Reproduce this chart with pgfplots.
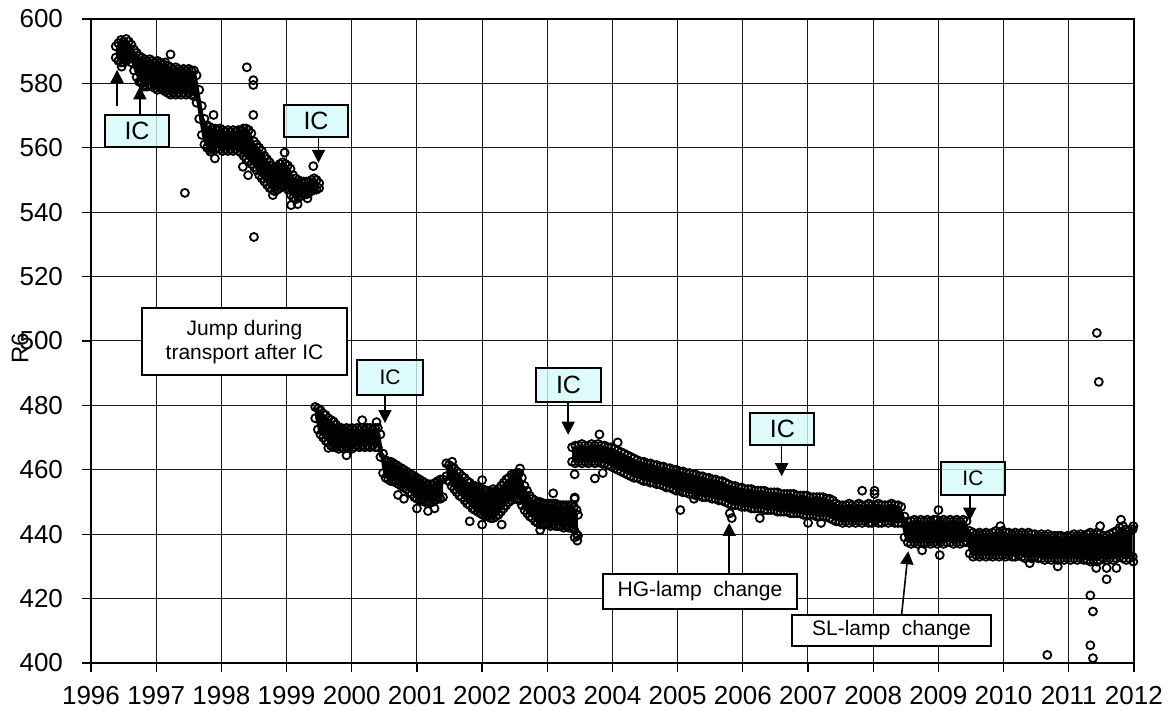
\documentclass[border=0pt]{standalone}
\usepackage{fontspec}
\setmainfont{Liberation Sans}
\usepackage{pgfplots}
\pgfplotsset{compat=1.18}
\usepackage{pgfplotstable}
\usepgfplotslibrary{fillbetween}
\usetikzlibrary{arrows.meta}
\definecolor{icfill}{RGB}{212,250,250}

\pgfplotstableread{
x t b
1996.38 591.5 588.0
1996.42 592.5 587.0
1996.46 593.5 586.5
1996.50 593.0 586.5
1996.54 593.8 587.0
1996.58 593.0 587.5
1996.62 592.0 586.5
1996.66 590.5 584.0
1996.70 589.5 582.0
1996.74 588.5 580.5
1996.78 588.0 580.0
1996.82 587.5 579.5
1996.86 587.0 579.0
1996.90 587.5 579.5
1996.94 587.0 579.0
1996.98 586.5 578.5
1997.02 587.0 578.0
1997.06 586.5 578.5
1997.10 586.0 578.0
1997.14 586.5 577.5
1997.18 585.5 577.0
1997.22 585.0 576.5
1997.26 584.5 577.0
1997.30 585.0 576.5
1997.34 584.5 577.0
1997.38 584.0 576.5
1997.42 584.5 577.0
1997.46 584.0 576.5
1997.50 584.5 577.0
1997.54 584.0 576.5
1997.58 584.0 576.0
1997.62 582.5 574.0
1997.66 578.0 569.0
1997.70 573.0 564.0
1997.74 569.0 561.0
1997.78 567.0 560.0
1997.82 566.5 559.5
1997.86 566.0 560.0
1997.90 566.0 559.5
1997.94 565.5 560.0
1997.98 566.0 559.5
1998.02 565.5 559.0
1998.06 565.0 559.5
1998.10 565.5 559.0
1998.14 565.0 559.5
1998.18 565.5 559.0
1998.22 565.0 559.5
1998.26 565.5 559.0
1998.30 565.5 558.5
1998.34 566.0 557.5
1998.38 566.0 556.5
1998.42 565.5 556.0
1998.46 564.5 555.0
1998.50 562.0 554.0
1998.54 561.0 553.0
1998.58 560.0 551.5
1998.62 559.0 550.5
1998.66 557.5 549.5
1998.70 556.5 548.5
1998.74 555.5 547.5
1998.78 554.5 547.0
1998.82 554.0 546.5
1998.86 554.0 547.0
1998.90 555.0 547.5
1998.94 555.5 548.0
1998.98 555.0 548.0
1999.02 554.5 547.0
1999.06 553.5 545.5
1999.10 551.5 544.5
1999.14 550.5 544.0
1999.18 550.0 544.5
1999.22 549.5 545.0
1999.26 549.5 545.5
1999.30 549.5 545.5
1999.34 549.5 546.0
1999.38 550.0 546.5
1999.42 550.5 547.0
1999.46 550.0 547.0
1999.50 549.0 547.5
}\segA

\pgfplotstableread{
x t b
1999.44 479.5 476.0
1999.48 479.0 472.5
1999.52 478.5 471.0
1999.56 477.5 470.0
1999.60 477.0 469.0
1999.64 476.0 468.5
1999.68 475.5 467.5
1999.72 475.0 467.0
1999.76 474.0 467.0
1999.80 473.0 466.5
1999.84 473.0 467.0
1999.88 472.5 466.5
1999.92 473.0 467.0
1999.96 472.5 467.0
2000.00 473.0 466.5
2000.04 472.5 467.0
2000.08 473.0 467.5
2000.12 472.5 467.0
2000.16 473.0 467.5
2000.20 472.5 467.0
2000.24 473.0 467.5
2000.28 473.0 467.0
2000.32 472.5 467.5
2000.36 473.0 467.0
2000.40 473.0 467.0
2000.44 471.0 464.0
2000.48 465.0 459.0
2000.52 463.0 457.5
2000.56 462.5 457.0
2000.60 462.5 456.5
2000.64 462.0 456.5
2000.68 461.5 456.0
2000.72 461.0 455.5
2000.76 460.5 455.0
2000.80 460.0 454.5
2000.84 459.5 454.0
2000.88 459.0 453.0
2000.92 458.5 452.5
2000.96 458.0 451.5
2001.00 457.5 451.0
2001.04 457.0 450.5
2001.08 456.5 450.5
2001.12 456.0 450.0
2001.16 455.5 450.0
2001.20 455.5 450.0
2001.24 455.5 450.0
2001.28 456.0 450.5
2001.32 456.5 451.0
2001.36 457.0 451.0
2001.40 457.0 451.5
}\segB

\pgfplotstableread{
x t b
2001.45 462.0 458.0
2001.49 461.5 456.5
2001.53 461.0 455.0
2001.57 460.5 454.0
2001.61 459.5 453.0
2001.65 459.0 452.0
2001.69 458.0 451.5
2001.73 457.5 450.5
2001.77 456.5 449.5
2001.81 456.0 449.0
2001.85 455.0 448.0
2001.89 455.0 447.5
2001.93 454.5 447.0
2001.97 454.0 446.5
2002.01 454.0 446.0
2002.05 453.5 445.5
2002.09 453.5 445.5
2002.13 453.0 445.0
2002.17 453.0 445.0
2002.21 453.5 445.5
2002.25 454.0 446.0
2002.29 455.0 447.0
2002.33 456.0 448.0
2002.37 457.0 449.0
2002.41 457.5 450.0
2002.45 458.5 450.5
2002.49 458.5 451.0
2002.53 459.0 451.0
2002.57 459.0 450.5
2002.61 457.5 449.0
2002.65 455.0 447.5
2002.69 453.5 446.5
2002.73 452.0 445.5
2002.77 451.0 445.0
2002.81 450.5 444.0
2002.85 450.0 443.5
2002.89 450.0 443.0
2002.93 449.5 443.0
2002.97 449.5 443.0
2003.01 449.5 443.0
2003.05 449.5 442.5
2003.09 449.5 443.0
2003.13 449.5 442.5
2003.17 449.0 442.5
2003.21 449.0 442.5
2003.25 449.0 442.0
2003.29 449.0 442.5
2003.33 449.0 442.0
2003.37 449.0 442.0
2003.41 448.5 441.5
2003.45 447.5 440.0
2003.47 446.0 439.5
}\segC

\pgfplotstableread{
x t b
2003.38 467.0 462.5
2003.43 467.5 462.0
2003.48 467.5 462.5
2003.53 468.0 462.0
2003.58 467.5 462.5
2003.63 467.5 462.0
2003.68 468.0 462.5
2003.73 467.5 462.0
2003.78 468.0 462.5
2003.83 467.5 462.0
2003.88 467.5 462.0
2003.93 467.0 461.5
2003.98 467.0 461.0
2004.03 466.5 460.5
2004.08 466.0 460.0
2004.13 465.5 459.5
2004.18 465.0 459.0
2004.23 464.5 458.5
2004.28 464.0 458.0
2004.33 463.5 457.5
2004.38 463.0 457.5
2004.43 462.5 457.0
2004.48 462.5 456.5
2004.53 462.0 456.5
2004.58 462.0 456.0
2004.63 461.5 456.0
2004.68 461.5 455.5
2004.73 461.0 455.5
2004.78 461.0 455.0
2004.83 460.5 454.5
2004.88 460.5 454.5
2004.93 460.0 454.0
2004.98 460.0 453.5
2005.03 459.5 453.5
2005.08 459.5 453.0
2005.13 459.0 453.0
2005.18 459.0 452.5
2005.23 458.5 452.5
2005.28 458.5 452.0
2005.33 458.0 452.0
2005.38 458.0 451.5
2005.43 457.5 451.5
2005.48 457.5 451.5
2005.53 457.0 451.0
2005.58 457.0 451.0
2005.63 456.5 450.5
2005.68 456.5 450.5
2005.73 456.0 450.0
2005.78 455.5 449.5
2005.83 455.0 449.0
2005.88 455.0 449.0
2005.93 454.5 449.0
2005.98 454.5 448.5
2006.03 454.0 448.5
2006.08 454.0 448.5
2006.13 454.0 448.0
2006.18 453.5 448.0
2006.23 453.5 448.0
2006.28 453.5 448.0
2006.33 453.5 447.5
2006.38 453.0 447.5
2006.43 453.0 447.5
2006.48 453.0 447.5
2006.53 453.0 447.0
2006.58 452.5 447.0
2006.63 452.5 447.0
2006.68 452.5 447.0
2006.73 452.5 446.5
2006.78 452.5 446.5
2006.83 452.0 446.5
2006.88 452.0 446.5
2006.93 452.0 446.0
2006.98 452.0 446.0
2007.03 451.5 446.0
2007.08 451.5 446.0
2007.13 451.5 445.5
2007.18 451.5 445.5
2007.23 451.5 445.5
2007.28 451.0 445.5
2007.33 451.0 445.0
2007.38 450.5 444.5
2007.43 449.5 444.0
2007.48 449.0 444.0
2007.53 449.0 443.5
2007.58 449.0 444.0
2007.63 449.5 443.5
2007.68 449.0 444.0
2007.73 449.0 443.5
2007.78 449.5 444.0
2007.83 449.0 443.5
2007.88 449.0 444.0
2007.93 449.5 443.5
2007.98 449.0 443.5
2008.03 449.0 444.0
2008.08 449.5 443.5
2008.13 449.0 443.5
2008.18 449.0 444.0
2008.23 449.0 443.5
2008.28 449.5 444.0
2008.33 449.0 443.5
2008.38 449.0 443.5
2008.43 448.5 443.5
2008.48 445.5 439.0
2008.53 444.0 437.5
2008.58 444.0 437.0
2008.63 444.5 437.5
2008.68 444.0 437.0
2008.73 444.5 437.5
2008.78 444.0 437.0
2008.83 444.5 437.5
2008.88 444.0 437.0
2008.93 444.5 437.5
2008.98 444.5 437.0
2009.03 444.0 437.5
2009.08 444.5 437.0
2009.13 444.0 437.5
2009.18 444.5 437.5
2009.23 444.0 437.0
2009.28 444.5 437.5
2009.33 444.0 437.0
2009.38 444.5 437.5
2009.43 444.0 437.5
2009.48 441.0 434.0
2009.53 440.5 433.0
2009.58 440.0 433.5
2009.63 440.5 433.0
2009.68 440.0 433.5
2009.73 440.5 433.0
2009.78 440.0 433.5
2009.83 440.5 433.0
2009.88 441.0 433.5
2009.93 440.5 433.0
2009.98 441.0 433.5
2010.03 440.5 433.0
2010.08 440.5 433.5
2010.13 440.0 433.0
2010.18 440.5 433.0
2010.23 440.0 433.5
2010.28 440.5 433.0
2010.33 440.0 432.5
2010.38 440.5 433.0
2010.43 440.0 432.5
2010.48 440.0 433.0
2010.53 439.5 432.5
2010.58 440.0 432.5
2010.63 439.5 432.0
2010.68 440.0 432.5
2010.73 439.5 432.0
2010.78 439.5 432.5
2010.83 439.5 432.0
2010.88 439.5 432.5
2010.93 439.0 432.0
2010.98 439.5 432.5
2011.03 439.5 432.0
2011.08 440.0 432.5
2011.13 439.5 432.0
2011.18 440.0 432.5
2011.23 439.5 432.0
2011.28 440.0 432.0
2011.33 440.5 431.5
2011.38 440.0 432.0
2011.43 440.5 431.5
2011.48 440.0 432.0
2011.53 439.5 432.5
2011.58 439.5 432.0
2011.63 440.0 432.5
2011.68 440.5 432.0
2011.73 441.0 432.5
2011.78 442.0 433.0
2011.83 442.5 432.5
2011.88 441.5 432.0
2011.93 441.0 432.5
2011.98 441.5 433.0
}\segD

\pgfplotstableread{
x y
1996.47 585.2
1996.76 580.5
1996.81 579.0
1997.22 589.0
1997.44 546.0
1997.83 558.8
1997.88 570.2
1997.90 556.7
1998.33 554.1
1998.39 585.0
1998.41 551.5
1998.49 581.0
1998.49 579.5
1998.49 570.2
1998.50 532.3
1998.79 545.3
1998.97 558.5
1999.07 542.2
1999.17 542.5
1999.32 544.3
1999.41 554.3
1999.64 466.8
1999.92 464.5
2000.16 475.4
2000.38 474.8
2000.71 452.2
2000.80 451.0
2001.00 448.0
2001.17 447.2
2001.27 448.0
2001.54 462.5
2001.81 444.0
2002.00 456.8
2002.17 454.0
2002.00 443.0
2002.30 443.0
2002.58 460.4
2002.89 441.3
2003.09 452.7
2003.42 451.0
2003.42 439.0
2003.46 438.0
2003.42 458.6
2003.42 451.4
2003.73 457.3
2003.85 459.0
2003.80 471.0
2004.08 468.5
2005.04 447.5
2005.25 451.0
2005.80 446.5
2005.83 445.0
2006.26 445.0
2007.00 443.5
2007.20 443.5
2007.83 453.5
2008.02 453.5
2008.02 452.5
2008.75 435.0
2009.00 447.5
2009.02 433.5
2009.95 442.5
2010.40 431.0
2010.67 402.5
2010.83 430.0
2011.33 421.0
2011.37 416.0
2011.33 405.5
2011.37 401.5
2011.42 429.5
2011.58 429.5
2011.73 429.5
2011.58 426.0
2011.48 442.5
2011.80 444.5
2011.99 442.5
2011.99 431.5
2011.43 502.5
2011.46 487.3
}\outl

\pgfplotsset{
  dots/.style={only marks, mark=o, black, mark size=2pt, line width=0.9pt, mark options={line width=0.9pt}},
}
\tikzset{
  icbox/.style={draw=black, line width=1pt, fill=icfill, fill opacity=0.8, text opacity=1, inner sep=0pt, minimum width=32pt, minimum height=16pt, font=\fontsize{12.5}{14}\selectfont},
  txtbox/.style={draw=black, line width=1pt, fill=white, inner sep=0pt, align=center, font=\fontsize{10.5}{12}\selectfont},
  arr/.style={-{Triangle[width=6.5pt,length=6.5pt]}, line width=0.8pt, black},
}

\begin{document}
\begin{tikzpicture}
\begin{axis}[
  name=ax,
  width=521.5pt, height=322pt, scale only axis,
  xmin=1996, xmax=2012, ymin=400, ymax=600,
  xtick={1996,1997,...,2012}, ytick={400,420,...,600},
  minor x tick num=11,
  grid=major, major grid style={black!90, line width=0.5pt},
  axis line style={line width=1pt, black},
  tick pos=left, tick align=outside,
  major tick length=4.5pt, minor tick length=2.2pt,
  every tick/.style={black, line width=0.6pt},
  /pgf/number format/1000 sep={},
  /pgf/number format/assume math mode=true,
  ticklabel style={font=\fontsize{13}{15}\selectfont, text=black},
  xticklabel style={yshift=-3.5pt},
  yticklabel style={xshift=-6pt},
  ylabel={R6},
  ylabel style={at={(axis description cs:-0.068,0.489)}, anchor=center, font=\fontsize{12}{14}\selectfont},
]
% bands
\addplot[name path=ta, draw=none, forget plot] table[x=x,y=t]{\segA};
\addplot[name path=ba, draw=none, forget plot] table[x=x,y=b]{\segA};
\addplot[black, forget plot] fill between[of=ta and ba];
\addplot[name path=tb, draw=none, forget plot] table[x=x,y=t]{\segB};
\addplot[name path=bb, draw=none, forget plot] table[x=x,y=b]{\segB};
\addplot[black, forget plot] fill between[of=tb and bb];
\addplot[name path=tc, draw=none, forget plot] table[x=x,y=t]{\segC};
\addplot[name path=bc, draw=none, forget plot] table[x=x,y=b]{\segC};
\addplot[black, forget plot] fill between[of=tc and bc];
\addplot[name path=td, draw=none, forget plot] table[x=x,y=t]{\segD};
\addplot[name path=bd, draw=none, forget plot] table[x=x,y=b]{\segD};
\addplot[black, forget plot] fill between[of=td and bd];
% edge points
\addplot[dots] table[x=x,y=t]{\segA};
\addplot[dots] table[x=x,y=b]{\segA};
\addplot[dots] table[x=x,y=t]{\segB};
\addplot[dots] table[x=x,y=b]{\segB};
\addplot[dots] table[x=x,y=t]{\segC};
\addplot[dots] table[x=x,y=b]{\segC};
\addplot[dots] table[x=x,y=t]{\segD};
\addplot[dots] table[x=x,y=b]{\segD};
\addplot[dots] table[x=x,y=y]{\outl};

% arrows
\draw[arr] (axis cs:1996.40,572.9) -- (axis cs:1996.40,584.2);
\draw[arr] (axis cs:1996.75,570.4) -- (axis cs:1996.75,579.1);
\draw[arr] (axis cs:1999.49,563.2) -- (axis cs:1999.49,555.3);
\draw[arr] (axis cs:2000.51,483.0) -- (axis cs:2000.51,474.5);
\draw[arr] (axis cs:2003.32,481.0) -- (axis cs:2003.32,470.9);
\draw[arr] (axis cs:2006.595,467.8) -- (axis cs:2006.595,458.0);
\draw[arr] (axis cs:2009.48,452.5) -- (axis cs:2009.48,444.2);
\draw[arr] (axis cs:2005.79,427.6) -- (axis cs:2005.79,443.5);
\draw[arr] (axis cs:2008.435,415.0) -- (axis cs:2008.537,434.7);

% boxes
\node[icbox] at (axis cs:1996.706,565.2) {IC};
\node[icbox] at (axis cs:1999.452,568.3) {IC};
\node[icbox, minimum width=33pt, minimum height=17.5pt, font=\fontsize{10.5}{12}\selectfont] at (axis cs:2000.587,488.7) {IC};
\node[icbox, minimum width=32.5pt, minimum height=17pt] at (axis cs:2003.325,486.3) {IC};
\node[icbox] at (axis cs:2006.607,472.7) {IC};
\node[icbox, minimum height=16.5pt, font=\fontsize{10.5}{12}\selectfont] at (axis cs:2009.53,457.3) {IC};
\node[txtbox, minimum width=102.5pt, minimum height=33.5pt] at (axis cs:1998.355,499.8) {Jump during\\transport after IC};
\node[txtbox, minimum width=97pt, minimum height=17.5pt] at (axis cs:2005.342,422.2) {HG-lamp\ \ change};
\node[txtbox, minimum width=99.5pt, minimum height=15.5pt] at (axis cs:2008.28,410.1) {SL-lamp\ \ change};
\end{axis}
\pgfresetboundingbox
\path ([xshift=-45.5pt,yshift=-24pt]ax.south west) rectangle ([xshift=20pt,yshift=9.5pt]ax.north east);
\end{tikzpicture}
\end{document}
